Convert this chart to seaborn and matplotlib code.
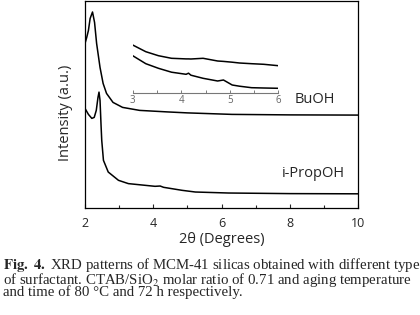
import numpy as np
import pandas as pd
import matplotlib
matplotlib.use("Agg")
import matplotlib.pyplot as plt
import matplotlib.ticker as ticker
import seaborn as sns

# main pattern, BuOH (arbitrary units)
buoh_2theta = [2.00, 2.05, 2.10, 2.15, 2.22, 2.28, 2.34, 2.44, 2.53, 2.63, 2.82, 3.10,
               3.60, 4.40, 5.00, 6.30, 8.00, 10.00]
buoh_int = [165, 171, 178, 190, 196.5, 186, 165, 141, 125, 115, 106, 101,
            98, 96.5, 95.5, 94, 93.5, 93.3]

# main pattern, i-PropOH
iprop_2theta = [2.00, 2.10, 2.20, 2.27, 2.33, 2.38, 2.41, 2.44, 2.47, 2.49, 2.54, 2.68,
                2.98, 3.27, 4.05, 4.20, 4.30, 4.84, 5.23, 6.20, 8.00, 10.00]
iprop_int = [100, 94, 90, 91, 98, 111, 116.3, 108, 83, 68, 48, 36.3,
             28, 24.7, 22, 22.3, 21, 18, 16.3, 15.3, 14.7, 14.5]

# inset (3-6 degrees), upper and lower traces
inset_2theta = [3.00, 3.27, 3.53, 3.80, 4.10, 4.15, 4.20, 4.45, 4.75, 4.87, 5.05, 5.20, 5.45, 5.70, 6.00]
inset_upper = [47.7, 41, 37, 34.4, 33.8, 33.8, 33.7, 34.4, 31.7, 31.3, 30.5, 29.7, 29.0, 28.4, 27]
inset_lower = [37, 29, 24.4, 20.5, 18.4, 19.5, 17.5, 14.4, 11.7, 12.7, 7.7, 6.5, 5, 4.7, 4.4]

main_ticks = [2, 4, 6, 8, 10]
inset_ticks = [3, 4, 5, 6]

caption = ("$\\mathbf{Fig.\\ 4.}$ XRD patterns of MCM-41 silicas obtained with different type\n"
           "of surfactant. CTAB/SiO$_2$ molar ratio of 0.71 and aging temperature\n"
           "and time of 80 °C and 72 h respectively.")

sns.set_style("white")
plt.rcParams['font.family'] = ['Open Sans', 'DejaVu Sans']
plt.rcParams['mathtext.fontset'] = 'stix'

W, H = 420, 315
fig = plt.figure(figsize=(4.2, 3.15), dpi=100)

def fx(px):
    return px / W

def fy(py):
    return 1 - py / H

ax = fig.add_axes([fx(85), fy(208.3), fx(358.3 - 85), (208.3 - 0.5) / H])
lw = 1.1
sns.lineplot(x=buoh_2theta, y=buoh_int, ax=ax, color='black', lw=lw, sort=False)
sns.lineplot(x=iprop_2theta, y=iprop_int, ax=ax, color='black', lw=lw, sort=False)
ax.set_xlim(2, 10)
ax.set_ylim(0, 208)
ax.set_xticks(main_ticks)
ax.xaxis.set_minor_locator(ticker.MultipleLocator(1))
ax.set_yticks([])
ax.tick_params(axis='x', which='major', direction='in', length=3, width=0.8,
               labelsize=9, pad=6, bottom=True)
ax.tick_params(axis='x', which='minor', direction='in', length=2.5, width=0.8, bottom=True)
for s in ax.spines.values():
    s.set_linewidth(0.9)
    s.set_color('black')
ax.set_xlabel('2θ (Degrees)', fontsize=10.5, labelpad=2)
ax.set_ylabel('Intensity (a.u.)', fontsize=10.5)
ax.yaxis.set_label_coords(-0.045, 0.46)

ax.text(8.13, 105, 'BuOH', fontsize=10.5, ha='left', va='baseline')
ax.text(7.77, 31, 'i-PropOH', fontsize=10.5, ha='left', va='baseline')

# inset
axi = fig.add_axes([fx(132.7), fy(92.7), fx(278.3 - 132.7), 50 / H])
axi.patch.set_alpha(0)
sns.lineplot(x=inset_2theta, y=inset_upper, ax=axi, color='black', lw=lw)
sns.lineplot(x=inset_2theta, y=inset_lower, ax=axi, color='black', lw=lw)
axi.set_xlim(3, 6)
axi.set_ylim(0, 50)
axi.set_xticks(inset_ticks)
axi.xaxis.set_minor_locator(ticker.MultipleLocator(0.5))
axi.set_yticks([])
for side in ['top', 'left', 'right']:
    axi.spines[side].set_visible(False)
axi.spines['bottom'].set_color('#777777')
axi.spines['bottom'].set_linewidth(0.8)
axi.tick_params(axis='x', which='both', direction='in', length=2.5, width=0.6,
                colors='#666666', labelsize=7, pad=2, bottom=True)

# caption, one text block in a Times-like face
fig.text(fx(3), fy(256.5), caption, fontsize=10.7, family=['Liberation Serif', 'DejaVu Serif'],
         va='top', ha='left', linespacing=0.7)

fig.savefig('out.png', dpi=100)
